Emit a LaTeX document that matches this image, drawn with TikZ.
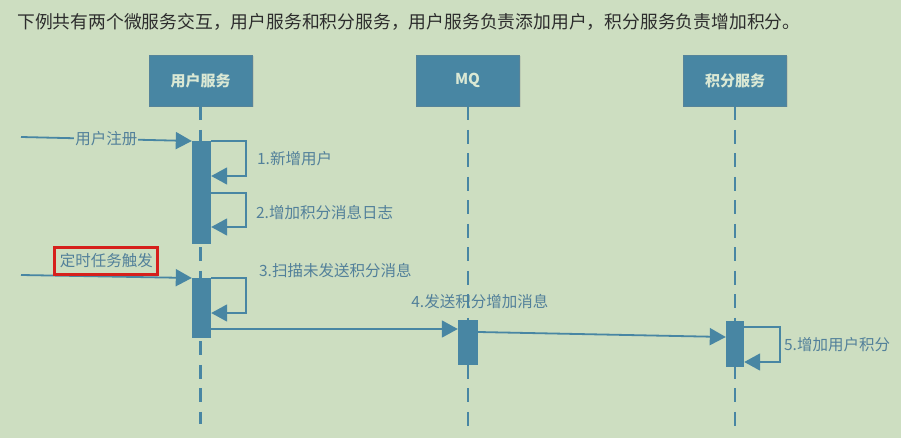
\documentclass[tikz,border=0pt]{standalone}
\usepackage{fontspec}
\setmainfont{Noto Sans CJK SC}
\usepackage{xcolor}
\definecolor{seqbg}{RGB}{205,222,193}
\definecolor{seqblue}{RGB}{72,134,163}
\definecolor{seqtext}{RGB}{82,128,154}
\definecolor{seqhead}{RGB}{218,232,212}
\definecolor{seqtitle}{RGB}{45,45,45}
\definecolor{seqred}{RGB}{214,32,28}
\usetikzlibrary{arrows.meta,positioning,shadows}

\begin{document}
\begin{tikzpicture}[x=1pt,y=-1pt,
  svc/.style={fill=seqblue,draw=seqblue!75!gray,line width=0.6pt,
    minimum width=103pt,minimum height=51pt,text=seqhead,
    font=\fontsize{15}{15}\selectfont\bfseries,
    drop shadow={opacity=0.2,shadow xshift=1.5pt,shadow yshift=-1.5pt}},
  life/.style={seqblue,line width=2.2pt,dash pattern=on 14pt off 9.5pt},
  actbar/.style={fill=seqblue,draw=none,minimum width=19pt,inner sep=0pt,anchor=north},
  msg/.style={seqblue,line width=1.8pt,-{Triangle[length=16pt,width=17pt]}},
  lbl/.style={font=\fontsize{15.5}{15.5}\selectfont,text=seqtext,inner sep=1pt}
]
  % Canvas
  \fill[seqbg] (0,0) rectangle (901,438);
  \useasboundingbox (0,0) rectangle (901,438);
  \node[anchor=west,inner sep=0pt,text=seqtitle,font=\fontsize{17.8}{18}\selectfont] (title) at (17,22)
    {下例共有两个微服务交互，用户服务和积分服务，用户服务负责添加用户，积分服务负责增加积分。};

  % Participants
  \node[svc] (user) at (200.5,80.5) {用户服务};
  \node[svc] (mq) at (467.5,80.5) {MQ};
  \node[svc] (score) at (735,80.5) {积分服务};

  % Lifelines
  \coordinate (user-end) at (200.5,424);
  \coordinate (mq-end) at (468,426);
  \coordinate (score-end) at (735,426);
  \draw[life] (user.south) -- (user-end);
  \draw[life] ([xshift=0.5pt]mq.south) -- (mq-end);
  \draw[life] (score.south) -- (score-end);

  % Activation bars
  \node[actbar,minimum height=103pt] (ubar1) at (201.5,141) {};
  \node[actbar,minimum height=60pt] (ubar2) at (201.5,278) {};
  \node[actbar,minimum height=45pt,minimum width=20pt] (mqbar) at (468,320) {};
  \node[actbar,minimum height=46pt,minimum width=18pt] (sbar) at (735,321) {};

  % Register request
  \coordinate (reg-start) at (21,137);
  \draw[msg] (reg-start) -- (ubar1.north west)
    node[lbl,fill=seqbg,pos=0.5] (reg-lbl) {用户注册};
  \draw[msg] (ubar1.north east) -- ++(35,0) -- ++(0,35)
    node[lbl,midway,right=9pt] (step1) {1.新增用户} -- ++(-35,0);
  \draw[msg] ([yshift=-52pt]ubar1.north east) -- ++(35,0) -- ++(0,34)
    node[lbl,midway,right=8pt,yshift=-3pt] (step2) {2.增加积分消息日志} -- ++(-35,0);

  % Timer trigger
  \coordinate (timer-start) at (21,275);
  \draw[msg] (timer-start) -- (ubar2.north west)
    node[lbl,pos=0.5,above=1pt,draw=seqred,line width=3pt,inner xsep=5pt,
      minimum height=27pt] (timer) {定时任务触发};
  \draw[msg] (ubar2.north east) -- ++(35,0)
    node[lbl,pos=1,anchor=west,xshift=11pt,yshift=7pt] (step3) {3.扫描未发送积分消息}
    -- ++(0,35) -- ++(-35,0);

  % Message to MQ and consumer
  \draw[msg] ([yshift=-51pt]ubar2.north east) -- ([yshift=-51pt]ubar2.north east -| mqbar.west)
    node[lbl,pos=1,xshift=22pt,yshift=27pt] (step4) {4.发送积分增加消息};
  \draw[msg] ([yshift=-12pt]mqbar.north east) -- ([yshift=-16pt]sbar.north west);
  \draw[msg] ([yshift=-6pt]sbar.north east) -- ++(36,0) -- ++(0,35)
    node[lbl,midway,right=2pt] (step5) {5.增加用户积分} -- ++(-36,0);
\end{tikzpicture}
\end{document}
